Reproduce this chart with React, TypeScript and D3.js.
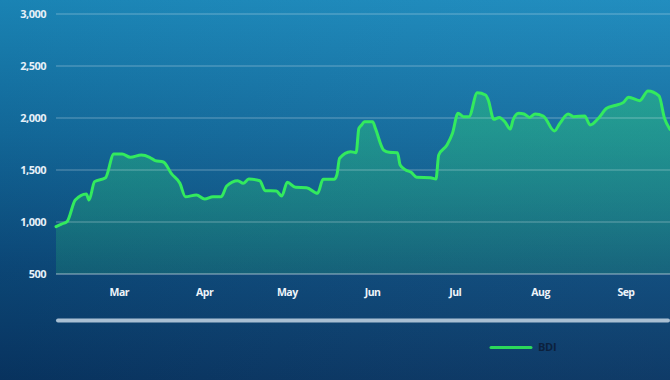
import React from "react";
import * as d3 from "d3";

const dates: string[] = [
  "2017-02-06","2017-02-08","2017-02-10","2017-02-13","2017-02-17","2017-02-18","2017-02-20","2017-02-24",
  "2017-02-27","2017-03-02","2017-03-05","2017-03-09","2017-03-12","2017-03-14","2017-03-17","2017-03-20",
  "2017-03-23","2017-03-25","2017-03-29","2017-04-01","2017-04-04","2017-04-07","2017-04-09","2017-04-13",
  "2017-04-15","2017-04-17","2017-04-21","2017-04-23","2017-04-27","2017-04-29","2017-05-01","2017-05-04",
  "2017-05-08","2017-05-12","2017-05-14","2017-05-18","2017-05-19","2017-05-20","2017-05-24","2017-05-26",
  "2017-05-27","2017-05-28","2017-05-29","2017-06-01","2017-06-02","2017-06-05","2017-06-07","2017-06-10",
  "2017-06-11","2017-06-13","2017-06-15","2017-06-17","2017-06-22","2017-06-24","2017-06-25","2017-06-28",
  "2017-06-30","2017-07-02","2017-07-04","2017-07-06","2017-07-09","2017-07-12","2017-07-13","2017-07-15",
  "2017-07-17","2017-07-19","2017-07-21","2017-07-22","2017-07-24","2017-07-26","2017-07-28","2017-07-30",
  "2017-08-02","2017-08-06","2017-08-08","2017-08-11","2017-08-13","2017-08-17","2017-08-19","2017-08-22",
  "2017-08-25","2017-08-28","2017-08-31","2017-09-02","2017-09-06","2017-09-09","2017-09-13","2017-09-15",
  "2017-09-17"
];

const bdi: number[] = [
  955, 980, 1003, 1211, 1270, 1211, 1388, 1426,
  1654, 1654, 1622, 1644, 1622, 1590, 1577, 1462,
  1372, 1243, 1260, 1221, 1243, 1243, 1346, 1397,
  1372, 1413, 1397, 1301, 1298, 1250, 1382, 1334,
  1330, 1276, 1410, 1410, 1452, 1613, 1676, 1667,
  1900, 1933, 1964, 1964, 1900, 1692, 1670, 1666,
  1548, 1500, 1478, 1430, 1426, 1413, 1644, 1740,
  1853, 2045, 2013, 2013, 2243, 2221, 2173, 1987,
  2006, 1964, 1894, 1981, 2045, 2038, 2006, 2038,
  2019, 1875, 1949, 2038, 2013, 2019, 1933, 1997,
  2093, 2120, 2148, 2199, 2167, 2260, 2212, 1997,
  1891
];

const yTicks: number[] = [500, 1000, 1500, 2000, 2500, 3000];
const monthTicks: string[] = ["2017-03-01","2017-04-01","2017-05-01","2017-06-01","2017-07-01","2017-08-01","2017-09-01"];
const seriesName = "BDI";

export default function App() {
  const W = 670, H = 380;
  const parse = d3.timeParse("%Y-%m-%d");
  const data = dates.map((d, i) => ({ date: parse(d) as Date, value: bdi[i] }));
  const x = d3.scaleTime()
    .domain([parse("2017-02-06") as Date, parse("2017-09-17") as Date])
    .range([56, 670]);
  const y = d3.scaleLinear().domain([500, 3000]).range([274, 14]);

  const line = d3.line<{ date: Date; value: number }>()
    .x(d => x(d.date)).y(d => y(d.value)).curve(d3.curveMonotoneX);
  const area = d3.area<{ date: Date; value: number }>()
    .x(d => x(d.date)).y0(y(500)).y1(d => y(d.value)).curve(d3.curveMonotoneX);
  const fmt = d3.format(",");
  const mfmt = d3.timeFormat("%b");

  return (
    <div style={{ position: "fixed", left: 0, top: 0 }}>
      <svg width={W} height={H} style={{ display: "block" }}>
        <defs>
          <linearGradient id="bg" x1="0" y1="0" x2="0" y2="1">
            <stop offset="0%" stopColor="#1b8abd" />
            <stop offset="35%" stopColor="#136c9f" />
            <stop offset="70%" stopColor="#0c4a7c" />
            <stop offset="100%" stopColor="#083563" />
          </linearGradient>
          <linearGradient id="bgx" x1="0" y1="0" x2="1" y2="0">
            <stop offset="0%" stopColor="#000" stopOpacity={0.05} />
            <stop offset="100%" stopColor="#fff" stopOpacity={0.03} />
          </linearGradient>
          <linearGradient id="fill" x1="0" y1="0" x2="0" y2="1">
            <stop offset="0%" stopColor="#2fd772" stopOpacity={0.42} />
            <stop offset="100%" stopColor="#2fd772" stopOpacity={0.16} />
          </linearGradient>
        </defs>
        <rect x={0} y={0} width={W} height={H} fill="url(#bg)" />
        <rect x={0} y={0} width={W} height={H} fill="url(#bgx)" />
        <path d={area(data) || ""} fill="url(#fill)" />
        {yTicks.map(t => (
          <g key={t}>
            <line x1={56} x2={670} y1={y(t)} y2={y(t)} stroke="#ffffff" strokeOpacity={t === 500 ? 0.4 : 0.22} strokeWidth={1.5} />
            <text x={46} y={y(t)} dy="0.35em" textAnchor="end" fill="#e6f0f8" fontFamily="'Open Sans', sans-serif" fontWeight={700} fontSize={11} letterSpacing={-0.5}>
              {fmt(t)}
            </text>
          </g>
        ))}
        <path d={line(data) || ""} fill="none" stroke="#33ea5e" strokeWidth={3} strokeLinejoin="round" strokeLinecap="round" />
        {monthTicks.map(m => {
          const dt = parse(m) as Date;
          return (
            <text key={m} x={x(dt)} y={292} dy="0.35em" textAnchor="middle" fill="#eef4fa" fontFamily="'Open Sans', sans-serif" fontWeight={700} fontSize={10.5} letterSpacing={-0.5}>
              {mfmt(dt)}
            </text>
          );
        })}
        <line x1={58} x2={668} y1={320.5} y2={320.5} stroke="#a9bfd3" strokeWidth={4} strokeLinecap="round" />
        <line x1={491} x2={531} y1={347.5} y2={347.5} stroke="#2cd85a" strokeWidth={3} strokeLinecap="round" />
        <text x={538} y={347.5} dy="0.35em" fill="#0c213d" fontFamily="'Open Sans', sans-serif" fontWeight={700} fontSize={11} letterSpacing={-0.3}>
          {seriesName}
        </text>
      </svg>
    </div>
  );
}
